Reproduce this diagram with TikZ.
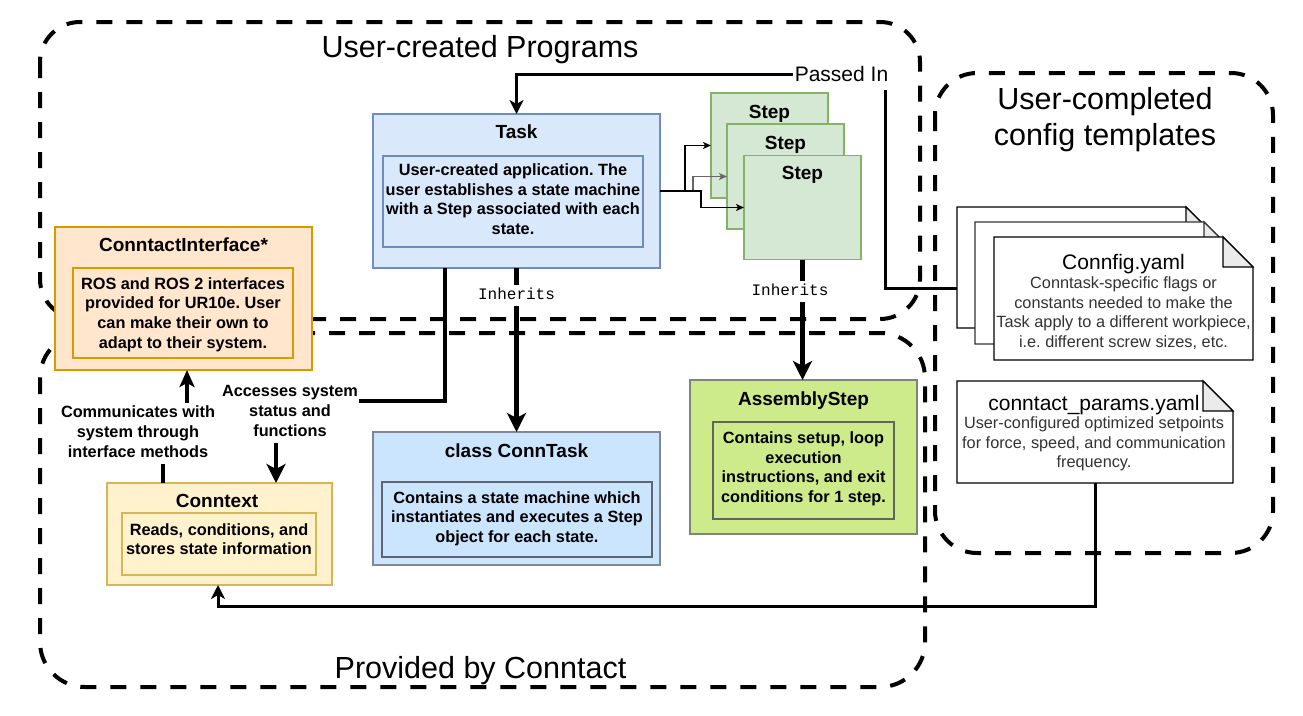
\documentclass[tikz,border=0pt]{standalone}
\usepackage{fontspec}
\setmainfont{Liberation Sans}
\newfontfamily\monofont{Liberation Mono}
\usetikzlibrary{arrows.meta}
\definecolor{taskfill}{HTML}{DAE8FC}
\definecolor{taskline}{HTML}{6C8EBF}
\definecolor{stepfill}{HTML}{D5E8D4}
\definecolor{stepline}{HTML}{82B366}
\definecolor{cifill}{HTML}{FFE6CC}
\definecolor{ciline}{HTML}{D79B00}
\definecolor{ctxfill}{HTML}{FFF2CC}
\definecolor{ctxline}{HTML}{D6B656}
\definecolor{ctfill}{HTML}{CCE5FF}
\definecolor{ctline}{HTML}{7F8894}
\definecolor{ctinline}{HTML}{5F6670}
\definecolor{asfill}{HTML}{CDEB8B}
\definecolor{asline}{HTML}{7F8677}
\definecolor{asinline}{HTML}{5F665A}
\definecolor{desc}{HTML}{333333}
\definecolor{foldfill}{HTML}{EBEBEB}
\definecolor{grayarr}{HTML}{666666}
\definecolor{docBline}{HTML}{333333}
\begin{document}
\frenchspacing
\begin{tikzpicture}[x=1pt,y=-1pt,
  cont/.style={draw=black, line width=4pt, dash pattern=on 16pt off 14pt},
  nbox/.style={draw, line width=1.3pt, inner sep=0pt, outer sep=0pt},
  docn/.style={inner sep=0pt, outer sep=0pt},
  docline/.style={draw=black, fill=white, line width=1.3pt, line join=miter},
  foldline/.style={draw=black, fill=foldfill, line width=1.3pt, line join=miter},
  ttl/.style={font=\fontsize{19}{23}\selectfont\bfseries, inner sep=0pt},
  itxt/.style={font=\fontsize{16.3}{19.7}\selectfont\bfseries, align=center, inner sep=0pt},
  dtxt/.style={font=\fontsize{16.3}{19.4}\selectfont, align=center, inner sep=0pt, text=desc},
  dttl/.style={font=\fontsize{21}{25}\selectfont, inner sep=0pt},
  bigttl/.style={font=\fontsize{30.5}{36}\selectfont, align=center, inner sep=0pt},
  inh/.style={font=\monofont\fontsize{16}{19}\selectfont, fill=white, inner sep=1pt},
  lbl/.style={font=\fontsize{16.3}{19.7}\selectfont\bfseries, align=center, fill=white, inner sep=1pt},
  plbl/.style={font=\fontsize{21}{25}\selectfont, fill=white, inner sep=1.5pt},
  thickarr/.style={draw=black, line width=4.5pt, -{Stealth[length=19pt,width=19pt,inset=5pt]}},
  commarr/.style={draw=black, line width=4.5pt, -{Stealth[length=17pt,width=15pt,inset=4pt]}},
  medarr/.style={draw=black, line width=3pt, -{Stealth[length=14pt,width=14pt,inset=4pt]}},
  thinarr/.style={draw=black, line width=1.2pt, -{Stealth[length=8pt,width=7pt,inset=2pt]}}
]
\useasboundingbox (0,0) rectangle (1303,715);
\fill[white] (0,0) rectangle (1303,715);

% containers
\draw[cont, rounded corners=40pt] (40,22) rectangle (920,319);
\draw[cont, rounded corners=45pt] (40,333) rectangle (925,687);
\draw[cont, rounded corners=42pt] (935,73) rectangle (1273,553);

% container titles
\node[bigttl] (ttlprog) at (480,49.8) {\strut User-created Programs};
\node[bigttl] (ttlprov) at (480.5,670.8) {\strut Provided by Conntact};
\node[bigttl] (ttlcfg) at (1105,119.8) {\strut User-completed\\config templates\strut};

% Task
\node[nbox, fill=taskfill, draw=taskline, minimum width=287pt, minimum height=154pt] (task) at (516.5,191) {};
\node[ttl] (tasktitle) at (516.5,133.4) {\strut Task};
\node[nbox, fill=taskfill, draw=taskline, minimum width=260pt, minimum height=91pt] (taskin) at (513,201.5) {};
\node[itxt] (tasktxt) at (513,201) {\strut User-created application. The\\user establishes a state machine\\with a Step associated with each\\state.\strut};

% Steps
\node[nbox, fill=stepfill, draw=stepline, minimum width=117pt, minimum height=105pt] (step1) at (769.5,145.5) {};
\node[ttl] (step1t) at (769.5,113.9) {\strut Step};
\node[nbox, fill=stepfill, draw=stepline, minimum width=117pt, minimum height=105pt] (step2) at (785.5,176.5) {};
\node[ttl] (step2t) at (785.5,144.4) {\strut Step};
\node[nbox, fill=stepfill, draw=stepline, minimum width=117pt, minimum height=104pt] (step3) at (802.5,207.5) {};
\node[ttl] (step3t) at (802.5,174.4) {\strut Step};

% ConntactInterface
\node[nbox, fill=cifill, draw=ciline, minimum width=257pt, minimum height=143pt] (ci) at (183.5,298.5) {};
\node[ttl] (cit) at (183.5,246.4) {\strut ConntactInterface*};
\node[nbox, fill=cifill, draw=ciline, minimum width=220pt, minimum height=90pt] (ciin) at (183,313) {};
\node[itxt] (citxt) at (183,314.8) {\strut ROS and ROS 2 interfaces\\provided for UR10e. User\\can make their own to\\adapt to their system.\strut};

% Conntext
\node[nbox, fill=ctxfill, draw=ctxline, minimum width=225pt, minimum height=102pt] (ctx) at (219.5,534) {};
\node[ttl] (ctxt) at (217,502.4) {\strut Conntext};
\node[nbox, fill=ctxfill, draw=ctxline, minimum width=194pt, minimum height=62pt] (ctxin) at (219,544) {};
\node[itxt] (ctxtxt) at (219,541) {\strut Reads, conditions, and\\stores state information\strut};

% class ConnTask
\node[nbox, fill=ctfill, draw=ctline, minimum width=287pt, minimum height=133pt] (conntask) at (516.5,498.5) {};
\node[ttl] (conntaskt) at (516.5,452.4) {\strut class ConnTask};
\node[nbox, fill=ctfill, draw=ctinline, minimum width=270pt, minimum height=75pt] (conntaskin) at (517,519.5) {};
\node[itxt] (conntasktxt) at (517,519) {\strut Contains a state machine which\\instantiates and executes a Step\\object for each state.\strut};

% AssemblyStep
\node[nbox, fill=asfill, draw=asline, minimum width=227pt, minimum height=154pt] (asm) at (803.5,457) {};
\node[ttl] (asmt) at (803.5,400.4) {\strut AssemblyStep};
\node[nbox, fill=asfill, draw=asinline, minimum width=181pt, minimum height=97pt] (asmin) at (803.5,470.5) {};
\node[itxt] (asmtxt) at (803.5,469) {\strut Contains setup, loop\\execution\\instructions, and exit\\conditions for 1 step.\strut};

% config documents
\node[docn, minimum width=259pt, minimum height=121pt] (docA) at (1086.5,267.5) {};
\draw[docline] (docA.north west) -- ([xshift=-30pt]docA.north east) -- ([yshift=-30pt]docA.north east) -- (docA.south east) -- (docA.south west) -- cycle;
\draw[foldline] ([xshift=-30pt]docA.north east) -- ([xshift=-30pt,yshift=-30pt]docA.north east) -- ([yshift=-30pt]docA.north east) -- cycle;

\node[docn, minimum width=259pt, minimum height=122pt] (docB) at (1104.5,283) {};
\draw[docline, draw=docBline] (docB.north west) -- ([xshift=-30pt]docB.north east) -- ([yshift=-30pt]docB.north east) -- (docB.south east) -- (docB.south west) -- cycle;
\draw[foldline, draw=docBline] ([xshift=-30pt]docB.north east) -- ([xshift=-30pt,yshift=-30pt]docB.north east) -- ([yshift=-30pt]docB.north east) -- cycle;

\node[docn, minimum width=259pt, minimum height=123pt] (docC) at (1123.5,298.5) {};
\draw[docline] (docC.north west) -- ([xshift=-30pt]docC.north east) -- ([yshift=-30pt]docC.north east) -- (docC.south east) -- (docC.south west) -- cycle;
\draw[foldline] ([xshift=-30pt]docC.north east) -- ([xshift=-30pt,yshift=-30pt]docC.north east) -- ([yshift=-30pt]docC.north east) -- cycle;
\node[dttl] (docCt) at (1123.5,264) {\strut Connfig.yaml};
\node[dtxt] (docCtxt) at (1123.5,314.1) {\strut Conntask-specific flags or\\constants needed to make the\\Task apply to a different workpiece,\\i.e. different screw sizes, etc.\strut};

\node[docn, minimum width=276pt, minimum height=102pt] (docD) at (1095,432) {};
\draw[docline] (docD.north west) -- ([xshift=-30pt]docD.north east) -- ([yshift=-30pt]docD.north east) -- (docD.south east) -- (docD.south west) -- cycle;
\draw[foldline] ([xshift=-30pt]docD.north east) -- ([xshift=-30pt,yshift=-30pt]docD.north east) -- ([yshift=-30pt]docD.north east) -- cycle;
\node[dttl] (docDt) at (1094,405) {\strut conntact\_params.yaml};
\node[dtxt] (docDtxt) at (1094,444.5) {\strut User-configured optimized setpoints\\for force, speed, and communication\\frequency.\strut};

% connectors
\coordinate (pinturn) at (885,74);
\draw[medarr] ([yshift=-20.5pt]docA.west) -| (pinturn) -| (task.north);
\node[plbl] (pinlbl) at (841.5,76) {\strut Passed In};

\draw[thinarr] (task.east) -- ++(25,0) |- (step1.west);
\draw[thinarr, draw=grayarr] (task.east) -- ++(33,0) |- (step2.west);
\draw[thinarr] (task.east) -- ++(41,0) |- (step3.west);

\draw[thickarr] (task.south) -- (conntask.north);
\node[inh] (inh1) at (516.5,295.2) {\strut Inherits};
\draw[thickarr] (step3.south) -- (step3.south |- asm.north);
\node[inh] (inh2) at (790,291.2) {\strut Inherits};

\coordinate (acccorner) at (276,401);
\draw[thickarr] ([xshift=-71.5pt]task.south) |- (acccorner) -- ([xshift=56.5pt]ctx.north);
\node[lbl] (acclbl) at (290,412.5) {\strut Accesses system\\status and\\functions\strut};

\draw[commarr] ([xshift=-56.5pt]ctx.north) -- ++(0,-50) -| ([xshift=3.5pt]ci.south);
\node[lbl] (comlbl) at (138,433.6) {\strut Communicates with\\system through\\interface methods\strut};

\draw[medarr] (docD.south) -- ++(0,123) -| ([xshift=-1.5pt]ctx.south);
\end{tikzpicture}
\end{document}
